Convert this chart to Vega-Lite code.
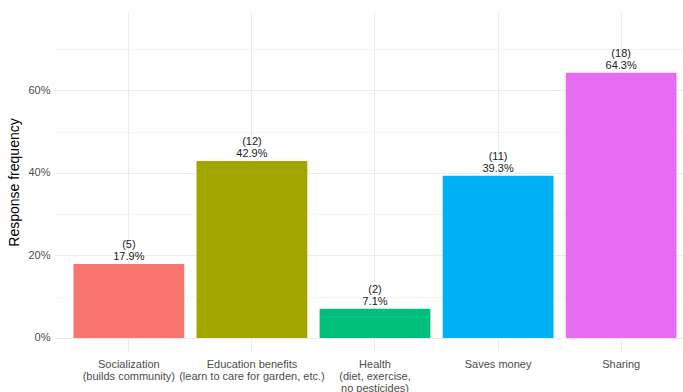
{
  "$schema": "https://vega.github.io/schema/vega-lite/v6.json",
  "autosize": {"type": "none"},
  "width": 640,
  "height": 340,
  "padding": {"left": 55, "top": 12, "right": 0, "bottom": 40},
  "background": "white",
  "config": {
    "font": "Liberation Sans",
    "view": {"stroke": null},
    "axis": {"domain": false, "ticks": false, "gridColor": "#EBEBEB", "labelColor": "#4D4D4D", "labelFontSize": 11, "labelFont": "Liberation Sans"}
  },
  "data": {
    "values": [
      {"category": "Socialization\n(builds community)", "n": 5, "pct": 0.179, "label": "(5)\n17.9%"},
      {"category": "Education benefits\n(learn to care for garden, etc.)", "n": 12, "pct": 0.429, "label": "(12)\n42.9%"},
      {"category": "Health\n(diet, exercise,\nno pesticides)", "n": 2, "pct": 0.071, "label": "(2)\n7.1%"},
      {"category": "Saves money", "n": 11, "pct": 0.393, "label": "(11)\n39.3%"},
      {"category": "Sharing", "n": 18, "pct": 0.643, "label": "(18)\n64.3%"}
    ]
  },
  "encoding": {
    "x": {
      "field": "category", "type": "nominal", "sort": null,
      "scale": {"paddingInner": 0.1, "paddingOuter": 0.15},
      "axis": {"title": null, "labelAngle": 0, "grid": true, "bandPosition": 0.5, "gridWidth": 1,
        "labelExpr": "split(datum.label, '\\n')", "labelLineHeight": 12, "labelPadding": 6, "labelBaseline": "top"}
    },
    "y": {
      "field": "pct", "type": "quantitative",
      "scale": {"domain": [-0.034, 0.79], "nice": false, "zero": false},
      "axis": {
        "title": "Response frequency", "titleFontSize": 14, "titleFontWeight": "normal", "titleColor": "black", "titlePadding": 6,
        "values": [0, 0.1, 0.2, 0.3, 0.4, 0.5, 0.6, 0.7],
        "format": ".0%",
        "labelExpr": "round(datum.value*10) % 2 == 0 ? datum.label : ''",
        "gridWidth": {"condition": {"test": "round(datum.value*10) % 2 == 0", "value": 1.1}, "value": 0.6},
        "labelPadding": 5
      }
    }
  },
  "layer": [
    {
      "mark": {"type": "bar"},
      "encoding": {
        "y2": {"datum": 0},
        "color": {
          "field": "category", "type": "nominal", "sort": null, "legend": null,
          "scale": {"range": ["#F8766D", "#A3A500", "#00BF7D", "#00B0F6", "#E76BF3"]}
        }
      }
    },
    {
      "mark": {"type": "text", "baseline": "bottom", "dy": -14, "fontSize": 11, "color": "#222222", "lineBreak": "\n", "lineHeight": 12},
      "encoding": {"text": {"field": "label"}}
    }
  ]
}
